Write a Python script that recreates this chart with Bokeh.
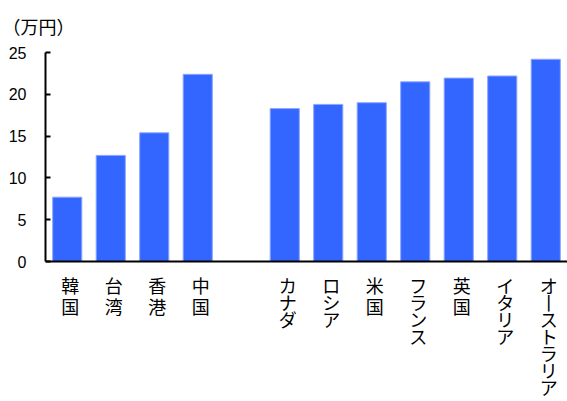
from bokeh.plotting import figure
from bokeh.models import FactorRange, Range1d, FixedTicker, Span, ColumnDataSource
from bokeh.core.properties import value
from bokeh.embed import file_html
from bokeh.resources import INLINE

# data
countries = ["韓国", "台湾", "香港", "中国", "カナダ", "ロシア", "米国",
             "フランス", "英国", "イタリア", "オーストラリア"]
values = [7.7, 12.7, 15.4, 22.4, 18.3, 18.8, 19.0, 21.5, 21.95, 22.2, 24.2]
gap_factor = "　"
slot_order = countries[:4] + [gap_factor] + countries[4:]
y_ticks = [0, 5, 10, 15, 20, 25]
unit_title = "（万円）"

def vertical(s):
    return "\n".join("丨" if ch == "ー" else ch for ch in s)

def is_kana(s):
    return any("\u30a0" <= ch <= "\u30ff" for ch in s)

src = ColumnDataSource(dict(x=countries, top=values))
kanji = [c for c in countries if not is_kana(c)]
kana = [c for c in countries if is_kana(c)]
src_kanji = ColumnDataSource(dict(x=kanji, lab=[vertical(c) for c in kanji]))
src_kana = ColumnDataSource(dict(x=kana, lab=[vertical(c) for c in kana]))

p = figure(width=567, height=401, output_backend="svg", toolbar_location=None,
           x_range=FactorRange(factors=slot_order, range_padding=0),
           y_range=Range1d(-16.75, 25.25),
           min_border_left=45, min_border_right=0, min_border_top=50,
           min_border_bottom=0)

p.vbar(x="x", top="top", bottom=0, width=0.67, source=src,
       fill_color="#3366FF", line_color="#8ea6ff", line_width=1)

common = dict(text_font=value("Noto Sans CJK JP"), text_font_size="18px",
              text_align="center", text_baseline="top", x_offset=3,
              text_color="black")
p.text(x="x", y=-1.2, text="lab", source=src_kanji, text_line_height=0.84, **common)
p.text(x="x", y=-1.2, text="lab", source=src_kana, text_line_height=0.66, **common)

p.add_layout(Span(location=0, dimension="width", line_color="black", line_width=2))

p.xaxis.visible = False
ya = p.yaxis[0]
ya.bounds = (0, 25)
ya.ticker = FixedTicker(ticks=y_ticks)
ya.minor_tick_line_color = None
ya.major_tick_in = 5
ya.major_tick_out = 0
ya.major_tick_line_width = 2
ya.axis_line_width = 2
ya.axis_line_color = "black"
ya.major_tick_line_color = "black"
ya.major_label_text_font = "Liberation Sans"
ya.major_label_text_font_size = "16px"
ya.major_label_text_color = "black"
ya.major_label_standoff = 19

p.xgrid.visible = False
p.ygrid.visible = False
p.outline_line_color = None

p.title.text = unit_title
p.title.align = "left"
p.title.vertical_align = "top"
p.title.offset = -43
p.title.standoff = 20
p.title.text_font = "Noto Sans CJK JP"
p.title.text_font_size = "18px"
p.title.text_font_style = "normal"
p.title.text_color = "black"

open("out.html", "w").write(file_html(p, INLINE))
